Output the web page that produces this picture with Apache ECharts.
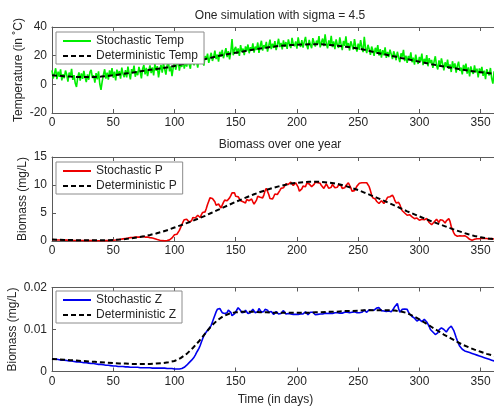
<!DOCTYPE html>
<html>
<head>
<meta charset="utf-8">
<script src="https://cdn.jsdelivr.net/npm/echarts@6/dist/echarts.min.js"></script>
<style>
html,body{margin:0;padding:0;background:#fff}
#chart{width:494px;height:412px}
</style>
</head>
<body>
<div id="chart"></div>
<script>
// Daily simulation output (day 0..365) and the deterministic model sampled every 5 days.
const tempStochastic = [
9.8,4.1,7.5,11.2,3.6,8.9,5.2,10.4,2.8,7.1,
4.3,9.6,6.8,1.9,8.2,5.5,10.8,3.1,6.4,0.7,
-1.8,4.9,8.3,2.6,7.7,3.8,9.4,5.1,1.5,6.9,
3.2,8.6,10.1,4.4,6.2,1.2,7.8,3.5,9.0,0.4,
-3.9,2.1,6.7,10.5,4.0,8.1,3.3,9.7,5.9,11.3,
4.6,8.8,2.7,10.2,6.1,9.3,3.9,11.7,7.2,5.0,
9.9,4.8,12.3,7.6,3.4,10.6,8.1,13.0,5.3,9.2,
6.4,12.1,8.7,4.2,10.9,13.5,7.0,11.4,5.8,9.6,
13.2,7.9,11.8,6.3,14.1,9.5,12.7,4.9,10.3,13.6,
8.2,14.8,10.6,6.8,13.4,16.0,9.1,12.5,5.7,11.9,
15.3,10.2,13.9,17.4,9.6,14.7,12.1,18.2,11.0,15.8,
12.4,17.6,14.0,10.9,18.8,15.2,13.3,19.5,16.1,11.7,
17.9,14.4,20.3,16.8,13.1,19.7,17.2,21.4,15.0,18.6,
22.0,16.3,19.1,23.5,17.6,20.8,15.9,22.7,19.4,24.1,
18.2,21.6,25.3,19.0,23.2,17.4,22.5,31.5,20.3,24.4,
26.1,21.2,25.0,19.8,27.3,22.6,24.9,20.4,26.5,23.1,
27.8,21.7,25.9,23.4,28.6,22.1,26.3,24.0,29.2,21.9,
26.8,30.4,23.5,27.4,25.1,29.6,22.8,27.0,31.2,24.6,
28.3,25.4,30.1,23.9,27.7,31.8,26.0,28.9,24.4,30.6,
26.2,29.5,24.7,31.3,27.9,25.3,32.4,28.1,26.6,30.0,
24.9,32.8,28.4,26.1,30.9,25.6,29.8,33.1,27.2,24.5,
31.0,27.7,25.2,32.2,29.1,26.4,30.5,28.0,33.6,25.8,
29.3,31.9,26.7,34.8,28.5,25.1,30.7,27.4,33.9,26.0,
29.9,24.6,31.4,27.5,25.4,32.7,28.2,23.9,30.3,26.8,
33.4,25.7,28.8,23.6,30.0,27.1,24.2,31.6,26.3,22.9,
28.4,24.1,30.9,26.0,22.5,33.2,25.3,21.8,27.6,24.7,
20.6,26.4,23.8,19.9,25.5,22.2,27.3,20.1,24.6,18.7,
23.9,20.3,25.8,18.4,22.6,19.0,24.2,21.1,17.6,23.0,
20.5,16.8,22.7,18.9,15.5,21.6,19.3,24.1,16.2,20.0,
14.9,19.8,17.1,22.3,15.4,18.6,13.7,20.7,16.5,14.2,
19.1,16.0,21.5,13.4,17.8,15.2,20.4,12.6,18.3,14.8,
17.0,11.5,15.9,19.6,13.1,10.4,16.7,12.8,18.1,14.3,
9.7,15.4,12.0,17.2,10.8,13.9,8.6,16.1,11.4,14.6,
8.1,12.9,15.8,9.3,11.7,6.9,13.6,10.2,14.4,7.5,
11.8,5.6,12.5,9.0,7.2,13.3,8.4,10.9,4.8,11.1,
7.8,12.2,5.9,9.5,3.7,10.6,8.0,6.3,11.4,4.2,
0.5,9.1,5.4,10.3,6.6,8.2
];
const tempDeterministic = [
6.3,6.0,5.7,5.4,5.2,5.1,5.1,5.2,5.4,5.8,
6.3,6.9,7.5,8.1,8.8,9.5,10.1,10.7,11.3,12.0,
12.8,13.8,14.8,15.7,16.6,17.6,18.6,19.6,20.5,21.3,
22.1,22.8,23.6,24.3,25.0,25.6,26.2,26.7,27.1,27.4,
27.6,27.8,27.9,28.0,27.9,27.6,27.2,26.7,26.2,25.6,
25.0,24.1,23.1,22.1,21.2,20.3,19.4,18.4,17.5,16.7,
15.8,14.9,14.0,13.2,12.4,11.7,11.0,10.3,9.6,9.0,
8.5,8.0,7.4,7.0
];
const pStochastic = [
0.25,0.24,0.22,0.2,0.19,0.2,0.18,0.17,0.16,0.17,
0.15,0.14,0.15,0.13,0.12,0.12,0.11,0.12,0.1,0.1,
0.09,0.1,0.09,0.08,0.08,0.09,0.07,0.07,0.08,0.06,
0.06,0.07,0.06,0.05,0.06,0.05,0.05,0.06,0.05,0.05,
0.05,0.06,0.05,0.06,0.07,0.06,0.07,0.08,0.09,0.1,
0.12,0.14,0.17,0.2,0.24,0.28,0.3,0.35,0.38,0.42,
0.45,0.5,0.52,0.55,0.6,0.58,0.62,0.65,0.7,0.68,
0.72,0.75,0.7,0.78,0.8,0.74,0.7,0.78,0.72,0.66,
0.6,0.62,0.55,0.48,0.42,0.35,0.28,0.2,0.15,0.1,
0.06,0.04,0.03,0.05,0.08,0.12,0.2,0.35,0.55,0.8,
1.1,1.3,1.2,1.45,1.9,2.4,2.9,3.4,3.8,3.5,
3.9,4.0,3.4,3.1,3.6,4.2,4.5,4.1,4.3,4.6,
4.4,4.2,4.7,5.1,5.4,5.2,5.8,6.5,7.1,7.7,
7.9,7.6,7.8,7.0,6.4,6.2,6.6,6.3,5.9,6.4,
6.9,7.3,7.6,7.2,7.5,7.7,8.1,8.6,8.9,8.6,
8.0,7.8,7.9,7.6,7.2,6.9,7.0,7.3,6.8,7.4,
7.7,7.2,6.9,7.5,7.0,6.6,6.8,7.3,8.0,8.3,
7.8,7.5,7.7,8.2,9.0,9.4,9.1,8.3,7.6,7.3,
7.5,7.9,8.4,8.6,8.3,8.5,9.0,9.4,9.7,9.5,
9.8,10.2,10.4,10.1,10.3,10.5,10.2,9.9,10.1,10.4,
10.2,9.6,8.9,8.7,9.3,9.8,10.1,9.7,10.3,10.5,
10.2,10.0,9.7,9.4,10.1,10.5,10.7,10.4,10.6,10.3,
9.9,9.6,9.4,9.7,10.2,10.0,9.4,9.2,9.6,10.1,
9.8,9.5,9.2,9.6,10.0,10.3,9.9,9.4,9.1,9.5,
9.9,10.2,10.4,10.1,9.5,8.9,8.7,9.0,9.4,9.8,
10.1,10.3,10.2,10.4,10.5,10.4,10.2,10.4,10.3,9.7,
9.0,8.2,7.7,7.4,7.5,7.1,6.9,6.7,6.9,7.2,
7.0,6.7,7.0,7.4,7.8,7.5,7.9,8.1,8.2,7.8,
7.2,6.8,6.6,6.9,6.5,5.9,5.4,5.1,5.0,4.7,
4.6,4.4,4.7,4.5,4.3,4.2,4.0,3.9,4.1,3.8,
3.7,3.6,3.9,4.1,3.8,3.6,4.0,3.7,3.3,3.0,
2.9,3.1,3.4,3.7,3.9,3.6,3.3,3.8,4.0,3.7,
3.4,3.2,3.6,3.9,4.0,3.5,2.6,2.0,1.5,1.1,
0.9,0.85,0.9,0.95,1.0,0.9,0.85,0.95,0.9,0.7,
0.5,0.3,0.2,0.15,0.2,0.3,0.35,0.4,0.45,0.4,
0.45,0.5,0.4,0.45,0.5,0.45,0.4,0.35,0.4,0.45,
0.4,0.35,0.3,0.35,0.3,0.3
];
const pDeterministic = [
0.25,0.22,0.2,0.17,0.15,0.13,0.12,0.12,0.12,0.14,
0.18,0.25,0.35,0.48,0.65,0.85,1.08,1.35,1.65,2.0,
2.4,2.8,3.2,3.6,4.05,4.5,5.0,5.5,6.0,6.5,
7.0,7.45,7.9,8.35,8.75,9.1,9.45,9.75,10.0,10.25,
10.4,10.5,10.58,10.6,10.55,10.45,10.3,10.1,9.8,9.45,
9.1,8.65,8.2,7.75,7.3,6.8,6.3,5.8,5.3,4.85,
4.4,3.95,3.5,3.1,2.7,2.3,1.9,1.55,1.2,0.9,
0.65,0.48,0.36,0.3
];
const zStochastic = [
.0030,.0030,.0029,.0029,.0029,.0028,.0028,.0028,.0027,.0027,
.0027,.0026,.0026,.0026,.0025,.0025,.0025,.0024,.0024,.0024,
.0023,.0023,.0023,.0022,.0022,.0022,.0021,.0021,.0021,.0020,
.0020,.0020,.0019,.0019,.0019,.0018,.0018,.0018,.0017,.0017,
.0017,.0016,.0016,.0016,.0015,.0015,.0015,.0014,.0014,.0014,
.0013,.0013,.0013,.0013,.0012,.0012,.0012,.0012,.0012,.0011,
.0011,.0011,.0011,.0011,.0010,.0010,.0010,.0010,.0010,.0010,
.0010,.0009,.0009,.0009,.0009,.0009,.0009,.0009,.0009,.0009,
.0009,.0009,.0008,.0008,.0008,.0008,.0008,.0008,.0008,.0008,
.0008,.0008,.0008,.0007,.0007,.0007,.0007,.0007,.0007,.0006,
.0006,.0006,.0006,.0006,.0006,.0006,.0007,.0008,.0010,.0012,
.0015,.0018,.0021,.0024,.0027,.0030,.0034,.0039,.0045,.0050,
.0055,.0062,.0070,.0078,.0085,.0090,.0094,.0098,.0101,.0105,
.0110,.0118,.0126,.0134,.0142,.0148,.0152,.0150,.0146,.0140,
.0143,.0138,.0134,.0140,.0146,.0149,.0141,.0133,.0131,.0137,
.0142,.0147,.0152,.0149,.0145,.0140,.0136,.0141,.0146,.0143,
.0138,.0135,.0140,.0144,.0148,.0145,.0140,.0137,.0142,.0150,
.0146,.0141,.0137,.0143,.0148,.0151,.0146,.0141,.0138,.0143,
.0140,.0136,.0139,.0143,.0141,.0137,.0135,.0138,.0142,.0145,
.0141,.0137,.0135,.0138,.0140,.0137,.0134,.0136,.0139,.0136,
.0134,.0136,.0139,.0137,.0135,.0137,.0140,.0142,.0138,.0135,
.0137,.0141,.0145,.0141,.0137,.0135,.0138,.0136,.0134,.0137,
.0140,.0137,.0136,.0139,.0142,.0138,.0136,.0139,.0141,.0138,
.0136,.0140,.0143,.0140,.0137,.0139,.0142,.0139,.0137,.0141,
.0145,.0141,.0138,.0140,.0144,.0141,.0139,.0142,.0138,.0140,
.0143,.0140,.0138,.0141,.0144,.0146,.0143,.0141,.0144,.0147,
.0149,.0146,.0143,.0146,.0149,.0151,.0148,.0152,.0149,.0145,
.0141,.0144,.0147,.0143,.0140,.0144,.0146,.0142,.0145,.0150,
.0155,.0158,.0162,.0150,.0141,.0144,.0148,.0145,.0149,.0152,
.0148,.0142,.0137,.0134,.0131,.0129,.0127,.0123,.0120,.0121,
.0124,.0122,.0119,.0121,.0124,.0122,.0118,.0113,.0107,.0100,
.0097,.0094,.0091,.0088,.0087,.0092,.0099,.0103,.0104,.0102,
.0100,.0098,.0094,.0097,.0103,.0106,.0108,.0104,.0098,.0090,
.0081,.0073,.0066,.0060,.0056,.0053,.0051,.0049,.0048,.0047,
.0046,.0045,.0044,.0043,.0042,.0041,.0040,.0039,.0038,.0037,
.0036,.0035,.0034,.0033,.0032,.0031,.0030,.0029,.0028,.0027,
.0026,.0025,.0025,.0024,.0024,.0023
];
const zDeterministic = [
0.0030,0.0029,0.0028,0.0027,0.0026,0.0025,0.0024,0.0023,0.0022,0.0021,
0.0020,0.0019,0.0019,0.0018,0.0018,0.0018,0.0018,0.0019,0.0020,0.0022,
0.0025,0.0032,0.0042,0.0056,0.0072,0.0090,0.0108,0.0122,0.0132,0.0138,
0.0141,0.0142,0.0142,0.0142,0.0141,0.0141,0.0140,0.0140,0.0140,0.0140,
0.0140,0.0140,0.0140,0.0141,0.0141,0.0142,0.0142,0.0143,0.0144,0.0144,
0.0145,0.0146,0.0146,0.0146,0.0146,0.0146,0.0145,0.0143,0.0139,0.0132,
0.0124,0.0115,0.0106,0.0097,0.0088,0.0080,0.0072,0.0064,0.0058,0.0052,
0.0047,0.0042,0.0038,0.0035
];
const xTicks = [0, 50, 100, 150, 200, 250, 300, 350];
const tempTicks = [-20, 0, 20, 40];
const pTicks = [0, 5, 10, 15];
const zTicks = [0, 0.01, 0.02];

// Sampling grids in days
function dayGrid(n, step) { const d = []; for (let i = 0; i < n; i++) d.push(i * step); return d; }
const dailyDays = dayGrid(tempStochastic.length, 1);
const coarseDays = dayGrid(tempDeterministic.length, 5);
const pairs = (days, vals) => vals.map((v, i) => [days[i], v]);

const FONT = 'Liberation Sans, Arial, Helvetica, sans-serif';
const TEXT = '#262626';
const AXIS = '#5a5a5a';

const panels = [
  { top: 27, height: 86, ticks: tempTicks, yName: 'Temperature (in \u02DAC)', nameGap: 27,
    stoch: tempStochastic, det: tempDeterministic, color: '#00ee00',
    names: ['Stochastic Temp', 'Deterministic Temp'], legendTop: 32, fmt: v => String(v) },
  { top: 157, height: 84, ticks: pTicks, yName: 'Biomass (mg/L)', nameGap: 23,
    stoch: pStochastic, det: pDeterministic, color: '#ee0000',
    names: ['Stochastic P', 'Deterministic P'], legendTop: 162, fmt: v => String(v) },
  { top: 287.5, height: 84, ticks: zTicks, yName: 'Biomass (mg/L)', nameGap: 33,
    stoch: zStochastic, det: zDeterministic, color: '#0000ee',
    names: ['Stochastic Z', 'Deterministic Z'], legendTop: 291, fmt: v => v === 0 ? '0' : v.toFixed(2) }
];

const grid = [], xAxis = [], yAxis = [], series = [], legend = [];
panels.forEach((p, i) => {
  grid.push({ left: 52, width: 447, top: p.top, height: p.height, containLabel: false, outerBoundsMode: 'none' });
  const lineStyle = { color: AXIS, width: 1 };
  const xBase = {
    type: 'value', gridIndex: i, min: 0, max: 365, interval: 50,
    axisLine: { show: true, onZero: false, lineStyle },
    axisTick: { show: true, inside: true, length: 4, lineStyle },
    splitLine: { show: false }
  };
  xAxis.push(Object.assign({}, xBase, {
    position: 'bottom',
    axisLabel: { margin: 4, color: TEXT, fontFamily: FONT, fontSize: 12,
      formatter: v => xTicks.includes(v) ? String(v) : '' },
    name: i === 2 ? 'Time (in days)' : '',
    nameLocation: 'middle', nameGap: 22, nameMoveOverlap: false,
    nameTextStyle: { color: TEXT, fontFamily: FONT, fontSize: 12 }
  }));
  xAxis.push(Object.assign({}, xBase, { position: 'top', axisLabel: { show: false } }));
  const yMin = p.ticks[0], yMax = p.ticks[p.ticks.length - 1];
  const yBase = {
    type: 'value', gridIndex: i, min: yMin, max: yMax, interval: p.ticks[1] - p.ticks[0],
    axisLine: { show: true, onZero: false, lineStyle },
    axisTick: { show: true, inside: true, length: 4, lineStyle },
    splitLine: { show: false }
  };
  yAxis.push(Object.assign({}, yBase, {
    position: 'left',
    axisLabel: { margin: 5, color: TEXT, fontFamily: FONT, fontSize: 12, formatter: p.fmt },
    name: p.yName, nameLocation: 'middle', nameGap: p.nameGap, nameRotate: 90, nameMoveOverlap: false,
    nameTextStyle: { color: TEXT, fontFamily: FONT, fontSize: 12 }
  }));
  yAxis.push(Object.assign({}, yBase, { position: 'right', axisLabel: { show: false } }));

  series.push({
    name: p.names[0], type: 'line', xAxisIndex: 2 * i, yAxisIndex: 2 * i,
    data: pairs(dailyDays, p.stoch), symbol: 'none', animation: false,
    lineStyle: { color: p.color, width: 1.6 }, itemStyle: { color: p.color }, z: 2
  });
  series.push({
    name: p.names[1], type: 'line', xAxisIndex: 2 * i, yAxisIndex: 2 * i,
    data: pairs(coarseDays, p.det), symbol: 'none', animation: false,
    lineStyle: { color: '#000', width: 2, type: [5, 3] }, itemStyle: { color: '#000' }, z: 3
  });
  legend.push({
    data: p.names, orient: 'vertical', left: 56, top: p.legendTop,
    backgroundColor: '#fff', borderColor: '#8c8c8c', borderWidth: 1, borderRadius: 0,
    padding: [3, 6, 2, 6], itemGap: 3, itemWidth: 28, itemHeight: 14,
    itemStyle: { opacity: 0 },
    textStyle: { color: TEXT, fontFamily: FONT, fontSize: 12 },
    selectedMode: false, z: 10
  });
});

const chart = echarts.init(document.getElementById('chart'), null, { renderer: 'canvas' });
chart.setOption({
  backgroundColor: '#fff',
  animation: false,
  title: [
    { text: 'One simulation with sigma = 4.5', left: 275, top: 5, textAlign: 'center',
      textStyle: { color: TEXT, fontFamily: FONT, fontSize: 12, fontWeight: 'normal' } },
    { text: 'Biomass over one year', left: 275, top: 134, textAlign: 'center',
      textStyle: { color: TEXT, fontFamily: FONT, fontSize: 12, fontWeight: 'normal' } }
  ],
  grid, xAxis, yAxis, series, legend
});
</script>
</body>
</html>
